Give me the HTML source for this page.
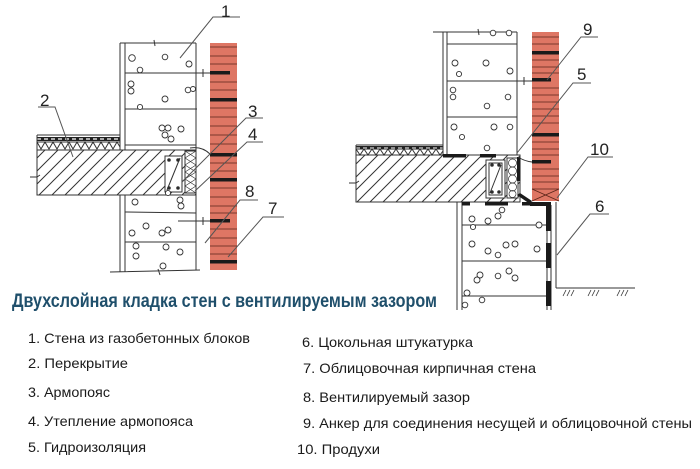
<!DOCTYPE html>
<html><head><meta charset="utf-8"><style>
html,body{margin:0;padding:0;background:#fff;}
svg{display:block;}
text{font-family:"Liberation Sans",Arial,sans-serif;}
</style></head><body>
<svg width="700" height="469" viewBox="0 0 700 469" xmlns="http://www.w3.org/2000/svg">
<defs>
<pattern id="h" patternUnits="userSpaceOnUse" width="13" height="13">
<path d="M0,13 L13,0 M-3,3 L3,-3 M10,16 L16,10" stroke="#333" stroke-width="1"/>
</pattern>
</defs>
<rect width="700" height="469" fill="#fff"/>

<!-- ============ LEFT DIAGRAM ============ -->
<g stroke="#333" stroke-width="1" fill="none">
<!-- slab -->
<rect x="37" y="150" width="159" height="45" fill="url(#h)"/>
<rect x="37" y="150" width="159" height="45"/>
<!-- floor layers -->
<line x1="37" y1="135" x2="120" y2="135"/>
<rect x="37" y="137" width="83" height="4" fill="#222" stroke="none"/>
<path d="M37,139 h83" stroke="#fff" stroke-dasharray="4,3" stroke-width="1.2"/>
<line x1="37" y1="142" x2="120" y2="142"/>
<polyline points="37,142 41,149 45,142 49,149 53,142 57,149 61,142 65,149 69,142 73,149 77,142 81,149 85,142 89,149 93,142 97,149 101,142 105,149 109,142 113,149 117,142 120,147"/>
<line x1="37" y1="135" x2="37" y2="150"/>
<!-- break mark -->
<path d="M30,177 l7,0 l3,-2" />
<!-- armopoyas box -->
<rect x="165" y="156" width="17" height="36" fill="#fff"/>
<line x1="167" y1="190" x2="180" y2="158"/>
<circle cx="169" cy="160" r="1.3" fill="#222"/><circle cx="178" cy="160" r="1.3" fill="#222"/>
<circle cx="169" cy="188" r="1.3" fill="#222"/><circle cx="178" cy="188" r="1.3" fill="#222"/>
<!-- insulation -->
<rect x="185" y="151" width="11" height="42" fill="#fff"/>
<path d="M185,151 l11,7 M196,151 l-11,7 M185,158 l11,7 M196,158 l-11,7 M185,165 l11,7 M196,165 l-11,7 M185,172 l11,7 M196,172 l-11,7 M185,179 l11,7 M196,179 l-11,7 M185,186 l11,7 M196,186 l-11,7" stroke-width="0.7"/>

<!-- block wall upper -->
<line x1="120" y1="43" x2="120" y2="150"/>
<line x1="125" y1="43" x2="125" y2="150"/>
<line x1="120" y1="43" x2="196" y2="43"/>
<path d="M154,40 l1,6"/>
<line x1="196" y1="43" x2="196" y2="150"/>
<line x1="125" y1="73" x2="196" y2="73"/>
<line x1="125" y1="109" x2="197" y2="109"/>
<line x1="125" y1="145" x2="196" y2="145"/>
<!-- block wall lower -->
<line x1="120" y1="195" x2="120" y2="272"/>
<line x1="125" y1="195" x2="125" y2="272"/>
<line x1="196" y1="195" x2="196" y2="270"/>
<line x1="125" y1="212" x2="196" y2="213"/>
<line x1="125" y1="242" x2="196" y2="242"/>
<path d="M110,272 L200,270 M158,269 l2,6"/>
</g>

<!-- bubbles left -->
<g stroke="#333" stroke-width="0.9" fill="#fff">
<circle cx="132" cy="58" r="3.3"/><circle cx="165" cy="57" r="2.8"/><circle cx="189" cy="64" r="3"/><circle cx="140" cy="70" r="2.8"/>
<circle cx="131" cy="84" r="3"/><circle cx="131" cy="91" r="3"/><circle cx="188" cy="90" r="2.8"/><circle cx="193" cy="89" r="2.5"/><circle cx="165" cy="99" r="3"/><circle cx="140" cy="107" r="2.6"/>
<circle cx="162" cy="128" r="3"/><circle cx="168" cy="128" r="3"/><circle cx="165" cy="135" r="3"/><circle cx="171" cy="139" r="3"/><circle cx="181" cy="129" r="3"/>
<circle cx="135" cy="202" r="3"/><circle cx="180" cy="200" r="3"/><circle cx="181" cy="206" r="3"/><circle cx="168" cy="193" r="2.6"/>
<circle cx="146" cy="226" r="3"/><circle cx="132" cy="233" r="3"/><circle cx="162" cy="233" r="3"/><circle cx="168" cy="230" r="3"/>
<circle cx="136" cy="246" r="3"/><circle cx="136" cy="256" r="3"/><circle cx="166" cy="247" r="3"/><circle cx="180" cy="252" r="3"/><circle cx="163" cy="266" r="3"/>
</g>

<!-- anchors left -->
<g stroke="#333" stroke-width="1">
<line x1="196" y1="73" x2="210" y2="73"/><line x1="203" y1="69" x2="203" y2="77"/>
<line x1="178" y1="221" x2="210" y2="221"/><line x1="203" y1="217" x2="203" y2="225"/>
<path d="M190,148 q12,-2 20,6" fill="none"/>
</g>

<!-- brick left -->
<rect x="210" y="43" width="27" height="227" fill="#de7664"/>
<g stroke="#5a2418" stroke-width="0.8">
<line x1="210" y1="47" x2="237" y2="47"/><line x1="210" y1="56" x2="237" y2="56"/><line x1="210" y1="64" x2="237" y2="64"/>
<line x1="210" y1="82" x2="237" y2="82"/><line x1="210" y1="90" x2="237" y2="90"/><line x1="210" y1="108" x2="237" y2="108"/>
<line x1="210" y1="117" x2="237" y2="117"/><line x1="210" y1="126" x2="237" y2="126"/><line x1="210" y1="135" x2="237" y2="135"/>
<line x1="210" y1="144" x2="237" y2="144"/><line x1="210" y1="163" x2="237" y2="163"/><line x1="210" y1="171" x2="237" y2="171"/>
<line x1="210" y1="188" x2="237" y2="188"/><line x1="210" y1="197" x2="237" y2="197"/><line x1="210" y1="206" x2="237" y2="206"/>
<line x1="210" y1="213" x2="237" y2="213"/><line x1="210" y1="229" x2="237" y2="229"/><line x1="210" y1="238" x2="237" y2="238"/>
<line x1="210" y1="246" x2="237" y2="246"/><line x1="210" y1="254" x2="237" y2="254"/>
</g>
<g fill="#1a1a1a">
<rect x="210" y="71" width="20" height="3.5"/><rect x="210" y="98" width="27" height="3.5"/>
<rect x="210" y="153" width="27" height="3.5"/><rect x="210" y="178" width="27" height="3.5"/>
<rect x="210" y="219" width="20" height="3.5"/><rect x="210" y="260" width="27" height="3.5"/>
</g>

<!-- ============ RIGHT DIAGRAM ============ -->
<g stroke="#333" stroke-width="1" fill="none">
<rect x="356" y="155" width="164" height="47" fill="url(#h)"/>
<rect x="356" y="155" width="164" height="47"/>
<!-- floor -->
<line x1="356" y1="145" x2="443" y2="145"/>
<rect x="356" y="146" width="87" height="3.5" fill="#222" stroke="none"/>
<path d="M356,148 h87" stroke="#fff" stroke-dasharray="4,3" stroke-width="1"/>
<polyline points="356,149 360,155 364,149 368,155 372,149 376,155 380,149 384,155 388,149 392,155 396,149 400,155 404,149 408,155 412,149 416,155 420,149 424,155 428,149 432,155 436,149 440,155 443,151"/>
<line x1="356" y1="145" x2="356" y2="155"/>
<path d="M349,183 l7,0 l3,-2"/>
<!-- box -->
<rect x="486" y="160" width="19" height="38" fill="#fff"/>
<rect x="489" y="163" width="13" height="32"/>
<line x1="490" y1="193" x2="501" y2="165"/>
<circle cx="492" cy="165" r="1.3" fill="#222"/><circle cx="499" cy="165" r="1.3" fill="#222"/>
<circle cx="492" cy="192" r="1.3" fill="#222"/><circle cx="499" cy="192" r="1.3" fill="#222"/>
<!-- insulation -->
<rect x="507" y="158" width="11" height="40" fill="#fff"/>
<g stroke-width="0.7">
<circle cx="512.5" cy="163" r="4"/><circle cx="512.5" cy="171" r="4"/><circle cx="512.5" cy="179" r="4"/><circle cx="512.5" cy="187" r="4"/><circle cx="512.5" cy="194" r="3.5"/>
</g>
<!-- upper wall -->
<line x1="433" y1="32" x2="517" y2="32"/>
<path d="M478,29 l1,6"/>
<line x1="443" y1="32" x2="443" y2="155"/>
<line x1="447" y1="32" x2="447" y2="155"/>
<line x1="517" y1="32" x2="517" y2="155"/>
<line x1="447" y1="44" x2="517" y2="44"/>
<line x1="447" y1="81" x2="517" y2="81"/>
<line x1="447" y1="117" x2="517" y2="117"/>
<!-- lower wall -->
<line x1="457" y1="202" x2="457" y2="310"/>
<line x1="462" y1="202" x2="462" y2="310"/>
<line x1="547" y1="205" x2="547" y2="310"/>
<line x1="551" y1="205" x2="551" y2="310"/>
<line x1="556" y1="202" x2="556" y2="288"/>
<line x1="462" y1="225" x2="547" y2="225"/>
<line x1="462" y1="261" x2="547" y2="261"/>
<line x1="462" y1="296" x2="547" y2="296"/>
<!-- ground -->
<line x1="556" y1="288" x2="635" y2="288"/>
<path d="M563,296 l3,-6 M567,296 l3,-6 M571,296 l3,-6 M588,296 l3,-6 M592,296 l3,-6 M596,296 l3,-6 M617,296 l3,-6 M621,296 l3,-6 M625,296 l3,-6" stroke-width="0.8"/>
</g>

<!-- bubbles right -->
<g stroke="#333" stroke-width="0.9" fill="#fff">
<circle cx="493" cy="33" r="2.8"/><circle cx="509" cy="33" r="2.8"/>
<circle cx="455" cy="63" r="3"/><circle cx="486" cy="63" r="3"/><circle cx="510" cy="71" r="3"/><circle cx="459" cy="74" r="2.6"/>
<circle cx="453" cy="90" r="2.8"/><circle cx="453" cy="97" r="2.8"/><circle cx="508" cy="97" r="2.8"/><circle cx="487" cy="106" r="2.8"/>
<circle cx="454" cy="127" r="3"/><circle cx="494" cy="127" r="3"/><circle cx="510" cy="127" r="2.8"/><circle cx="462" cy="137" r="2.6"/><circle cx="487" cy="148" r="2.8"/>
<circle cx="472" cy="219" r="3"/><circle cx="488" cy="221" r="3"/><circle cx="498" cy="216" r="3"/><circle cx="502" cy="210" r="2.8"/><circle cx="473" cy="227" r="2.6"/><circle cx="539" cy="225" r="3"/>
<circle cx="472" cy="244" r="3"/><circle cx="488" cy="251" r="3"/><circle cx="498" cy="255" r="2.8"/><circle cx="506" cy="245" r="3"/><circle cx="515" cy="244" r="3"/><circle cx="537" cy="249" r="3"/>
<circle cx="480" cy="275" r="3"/><circle cx="477" cy="280" r="3"/><circle cx="498" cy="276" r="2.8"/><circle cx="509" cy="271" r="3"/><circle cx="515" cy="278" r="3"/>
<circle cx="467" cy="293" r="3"/><circle cx="482" cy="300" r="2.8"/><circle cx="465" cy="305" r="2.8"/>
</g>

<!-- waterproofing black -->
<g fill="#1a1a1a">
<rect x="443" y="154" width="23" height="3.5"/><rect x="480" y="154" width="16" height="3.5"/>
<rect x="517" y="157" width="3.5" height="24"/>
<polygon points="517,195 520,193 532,201 530,204"/>
<rect x="530" y="202" width="21" height="4"/>
<rect x="546" y="202" width="5" height="29"/>
<rect x="546" y="243" width="5" height="25"/>
<rect x="546" y="281" width="5" height="25"/>
<rect x="462" y="202" width="8" height="3.5"/><rect x="485" y="202" width="23" height="3.5"/><rect x="522" y="202" width="10" height="3.5"/>
</g>

<!-- anchors right -->
<g stroke="#333" stroke-width="1">
<line x1="517" y1="81" x2="532" y2="81"/><line x1="524" y1="77" x2="524" y2="85"/>
<path d="M518,157 q6,4 14,5" fill="none"/>
</g>

<!-- brick right -->
<rect x="532" y="32" width="27" height="169" fill="#de7664"/>
<g stroke="#5a2418" stroke-width="0.8">
<line x1="532" y1="37" x2="559" y2="37"/><line x1="532" y1="44" x2="559" y2="44"/><line x1="532" y1="60" x2="559" y2="60"/>
<line x1="532" y1="67" x2="559" y2="67"/><line x1="532" y1="73" x2="559" y2="73"/><line x1="532" y1="88" x2="559" y2="88"/>
<line x1="532" y1="95" x2="559" y2="95"/><line x1="532" y1="102" x2="559" y2="102"/><line x1="532" y1="109" x2="559" y2="109"/>
<line x1="532" y1="116" x2="559" y2="116"/><line x1="532" y1="123" x2="559" y2="123"/><line x1="532" y1="142" x2="559" y2="142"/>
<line x1="532" y1="149" x2="559" y2="149"/><line x1="532" y1="155" x2="559" y2="155"/><line x1="532" y1="169" x2="559" y2="169"/>
<line x1="532" y1="176" x2="559" y2="176"/><line x1="532" y1="182" x2="559" y2="182"/><line x1="532" y1="189" x2="559" y2="189"/>
<path d="M532,189 L559,201 M559,189 L532,201"/>
</g>
<g fill="#1a1a1a">
<rect x="532" y="51" width="27" height="3.5"/><rect x="532" y="78" width="19" height="3.5"/>
<rect x="532" y="133" width="27" height="3.5"/><rect x="532" y="160" width="19" height="3.5"/>
</g>

<!-- ============ LABELS & LEADERS ============ -->
<g stroke="#555" stroke-width="1" fill="none">
<path d="M240,17 H213 L180,58"/>
<path d="M38,107 H55 L73,157"/>
<path d="M263,118 H246 L182,182"/>
<path d="M263,142 H247 L195,191"/>
<path d="M258,200 H240 L205,243"/>
<path d="M284,217 H263 L228,257"/>
<path d="M598,37 H581 L547,80"/>
<path d="M591,83 H573 L517,153"/>
<path d="M613,157 H588 L557,198"/>
<path d="M609,214 H590 L557,255"/>
</g>
<g font-size="17" fill="#222">
<text x="221" y="17">1</text>
<text x="40" y="106">2</text>
<text x="248" y="117">3</text>
<text x="248" y="140">4</text>
<text x="245" y="197">8</text>
<text x="268" y="214">7</text>
<text x="583" y="35">9</text>
<text x="577" y="80">5</text>
<text x="590" y="155">10</text>
<text x="595" y="212">6</text>
</g>

<!-- title -->
<text x="12" y="307" font-size="19" font-weight="bold" fill="#1f4f6b" textLength="425" lengthAdjust="spacingAndGlyphs">Двухслойная кладка стен с вентилируемым зазором</text>

<!-- legend -->
<g font-size="14" fill="#1a1a1a">
<text x="28" y="343" textLength="222" lengthAdjust="spacingAndGlyphs">1. Стена из газобетонных блоков</text>
<text x="28" y="368" textLength="100" lengthAdjust="spacingAndGlyphs">2. Перекрытие</text>
<text x="28" y="397" textLength="82" lengthAdjust="spacingAndGlyphs">3. Армопояс</text>
<text x="28" y="426" textLength="165" lengthAdjust="spacingAndGlyphs">4. Утепление армопояса</text>
<text x="28" y="452" textLength="118" lengthAdjust="spacingAndGlyphs">5. Гидроизоляция</text>
<text x="302" y="347" textLength="171" lengthAdjust="spacingAndGlyphs">6. Цокольная штукатурка</text>
<text x="303" y="373" textLength="233" lengthAdjust="spacingAndGlyphs">7. Облицовочная кирпичная стена</text>
<text x="303" y="402" textLength="167" lengthAdjust="spacingAndGlyphs">8. Вентилируемый зазор</text>
<text x="303" y="428" textLength="389" lengthAdjust="spacingAndGlyphs">9. Анкер для соединения несущей и облицовочной стены</text>
<text x="297" y="454" textLength="83" lengthAdjust="spacingAndGlyphs">10. Продухи</text>
</g>
</svg>
</body></html>
